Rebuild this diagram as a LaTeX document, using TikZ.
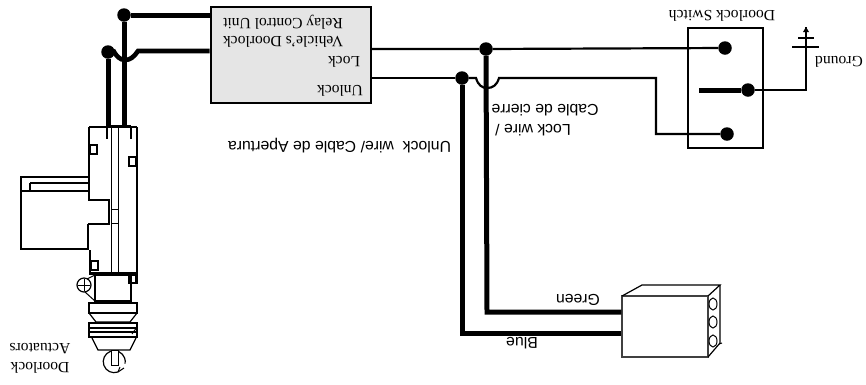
\documentclass[tikz,border=0pt]{standalone}
\usepackage{fontspec}
\setmainfont{Liberation Serif}
\setsansfont{Liberation Sans}
\usetikzlibrary{calc}
\tikzset{
  x=1pt,y=-1pt,
  thickwire/.style={line width=5pt},
  thinwire/.style={line width=2.2pt},
  outline/.style={line width=2pt},
  fine/.style={line width=1pt},
  junction/.style={circle,fill=black,draw=none,inner sep=0pt,minimum size=#1},
  junction/.default=13.5pt,
  serif/.style={rotate=180,font=\rmfamily\fontsize{15.6}{15.6}\selectfont,inner sep=0pt,text=black},
  sans/.style={rotate=180,font=\sffamily\fontsize{15.8}{15.8}\selectfont,inner sep=0pt,text=black},
}
\begin{document}
\begin{tikzpicture}
\useasboundingbox (0,0) rectangle (866,384);

% Relay unit
\node[draw=black,line width=2pt,fill=black!10,minimum width=160pt,minimum height=96pt,inner sep=0pt,anchor=center] (relay) at (290.5,55) {};
\node[serif] (t1) at (283,22) {Relay Control Unit};
\node[serif] (t2) at (283,42) {Vehicle's Doorlock};
\node[serif] (t3) at (344,62) {Lock};
\node[serif] (t4) at (340,91) {Unlock};

% Switch
\node[draw=black,line width=2pt,minimum width=75pt,minimum height=120pt,inner sep=0pt] (switch) at (725.5,88) {};
\node[serif] (t5) at (722,16) {Doorlock Switch};
\node[serif] (t6) at (839,62) {Ground};
\node[junction] (swa) at (725,48) {};
\node[junction] (swb) at (727,134) {};
\node[junction] (swc) at (748,90) {};
\coordinate (lever) at (699,90);
\draw[line width=5pt] (lever) -- (swc);
\coordinate (gndcorner) at (806,90);
\coordinate (gndtop) at (806,27);
\draw[thinwire] (swc) -- (gndcorner) -- (gndtop);
\draw[line width=2pt] (792,47) -- (819,47);
\draw[line width=2pt] (798,38) -- (814,38);
\fill (806,27) -- (809,32) -- (803,32) -- cycle;

% Junctions on relay side
\node[junction] (ja) at (486,49) {};
\node[junction] (jb) at (462,78) {};
\draw[thinwire] (relay.east |- ja) -- (ja) -- (swa);
\draw[thinwire] (relay.east |- jb) -- (jb);

% hop and path to lower switch contact
\coordinate (h1) at (476,78);
\coordinate (h2) at (499,78);
\coordinate (c1) at (656,78);
\coordinate (c2) at (656,134);
\draw[thinwire] (jb) -- (h1) .. controls (478,85) and (482,88) .. (487,88) .. controls (493,88) and (497,85) .. (h2) -- (c1) -- (c2) -- (swb);

% Plug block
\node[draw=black!75,line width=1.4pt,minimum width=86pt,minimum height=61pt,inner sep=0pt] (plug) at (665,326.5) {};
\draw[line width=1.2pt] (622,296) -- (642,285) -- (720,285) -- (708,296);
\draw[line width=1.2pt] (720,285) -- (720,343) -- (708,357);
\draw[line width=1pt] (713,304) ellipse (4pt and 6pt);
\draw[line width=1pt] (713,322) ellipse (4pt and 6pt);
\draw[line width=1pt] (713,341) ellipse (4pt and 6pt);
\draw[line width=1pt] (719,344) -- (722,343);

% Thick wires to plug
\coordinate (gcorner) at (487,312);
\coordinate (bcorner) at (462,333);
\draw[thickwire,line join=miter] (ja) -- (gcorner) -- (plug.west |- gcorner);
\draw[thickwire,line join=miter] (jb) -- (bcorner) -- (plug.west |- bcorner);

% Labels
\node[sans] (t7) at (339.5,146) {Unlock\ \ wire/ Cable de Apertura};
\node[sans] (t8) at (533,130) {Lock wire /};
\node[sans] (t9) at (545,110) {Cable de cierre};
\node[sans] (t10) at (578,300) {Green};
\node[sans] (t11) at (522,343) {Blue};
\node[serif] (t12) at (40,349) {Actuators};
\node[serif] (t13) at (40,368) {Doorlock};

% Wires to actuator
\node[junction] (jc) at (124,15) {};
\node[junction] (jd) at (108,52) {};
\coordinate (act1) at (124,127);
\coordinate (act2) at (108,127);
\draw[thickwire] (relay.west |- jc) -- (jc) -- (act1);
\draw[thickwire] (jd) -- (act2);
\coordinate (k1) at (138,51);
\coordinate (k2) at (113,50);
\draw[line width=4.6pt] (relay.west |- k1) -- (k1) .. controls (134,57) and (130,60) .. (125,60) .. controls (120,60) and (116,56) .. (k2);

% Actuator body
\draw[outline] (89,127) -- (137,127);
\draw[line width=3pt] (107,126) -- (131,126);
\draw[outline] (107,127) -- (107,139);
\draw[outline] (131,127) -- (131,139);
\draw[outline] (89,127) -- (89,200) -- (109,200) -- (109,224) -- (88,224);
\draw[line width=1.2pt] (88,224) -- (88,250);
\draw[outline] (90,250) -- (90,273);
\draw[outline] (137,127) -- (137,284);
\draw[fine] (111,127) -- (111,273);
\draw[fine] (118,127) -- (118,273);
\draw[fine] (111,209) -- (118,209);
\draw[fine] (111,223) -- (118,223);
\draw[line width=1.2pt] (90,145) rectangle (97,154);
\draw[line width=1.2pt] (129,157) rectangle (136,166);
\draw[line width=1.2pt] (91,261) rectangle (98,270);
\draw[line width=1.2pt] (129,275) rectangle (136,283);
\draw[line width=3pt] (89,273) -- (138,273);

% Side housing
\draw[outline] (89,177) -- (21,177) -- (21,249) -- (89,249);
\draw[outline] (30,183) -- (89,183);
\draw[outline] (21,191) -- (89,191);
\draw[outline] (30,183) -- (30,191);

% Lower part
\draw[outline] (95,275) rectangle (131,301);
\draw[line width=1.2pt] (84,285) circle (7pt);
\draw[fine] (78,285) -- (90,285);
\draw[fine] (84,279) -- (84,291);
\draw[fine] (87,279) -- (95,275);
\draw[fine] (85,292) -- (95,301);
\draw[line width=1.2pt] (89,303) rectangle (137,313);
\draw[line width=1.2pt] (89,313) -- (96,322) -- (130,322) -- (137,313);
\draw[line width=1.2pt] (89,323) rectangle (137,337);
\draw[line width=1.4pt] (89,328) -- (137,328);
\draw[line width=1.4pt] (89,332) -- (137,332);
\draw[fine] (132,334) -- (137,327);
\draw[line width=1.2pt] (92,338) -- (98,350) -- (130,350) -- (136,338);
\draw[line width=1.2pt] (118,372) arc[start angle=-70,end angle=-370,radius=11pt];
\draw[fill=white,line width=1pt] (111,350) rectangle (118,365);
\draw[fine] (118,372) -- (120,367);
\draw[fine] (118,372) -- (124,368);
\end{tikzpicture}
\end{document}
